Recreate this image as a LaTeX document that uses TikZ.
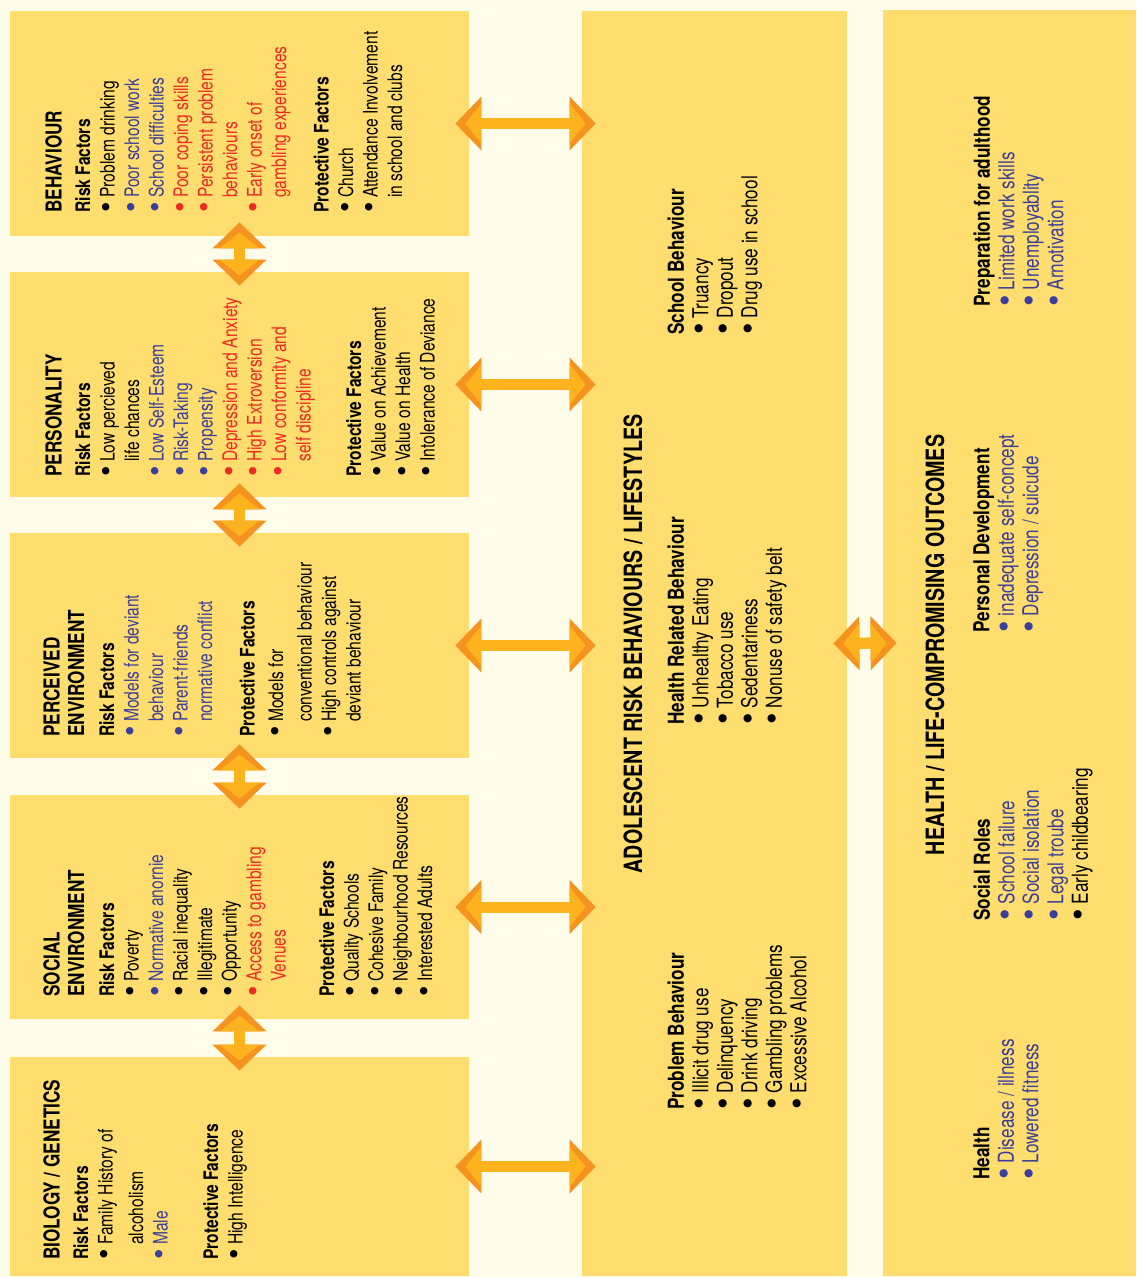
\documentclass[tikz,border=0pt]{standalone}
\usepackage{fontspec}
\setmainfont{TeX Gyre Heros}[FakeStretch=0.78]
\newfontfamily\dotfont{TeX Gyre Heros}
\usetikzlibrary{arrows.meta,fit,calc}

\definecolor{bgcream}{HTML}{FFFCEA}
\definecolor{boxyellow}{HTML}{FFDD6E}
\definecolor{itemblue}{HTML}{3B3E9B}
\definecolor{itemred}{HTML}{EE2A24}
\definecolor{arrowgold}{HTML}{FDB31E}
\definecolor{arroworange}{HTML}{F6921E}

% bullet item, and its continuation line
\newcommand{\bigdot}{\raisebox{-0.09em}{\scalebox{1.5}{\dotfont\textbullet}}}
\newcommand{\itm}[2]{\textcolor{#1}{\bigdot\ #2}}
\newcommand{\itmc}[2]{\phantom{\bigdot\ }\textcolor{#1}{#2}}
\newcommand{\ttl}[1]{{\fontsize{11}{12.25}\selectfont\bfseries #1}}
\newcommand{\bigttl}[1]{{\fontsize{12.6}{14}\selectfont\bfseries #1}}

\begin{document}
\begin{tikzpicture}[
                x=0.5pt,y=-0.5pt,
                panel/.style={fill=boxyellow,inner sep=0pt},
                txt/.style={rotate=90,anchor=north west,align=left,inner sep=0pt,font=\fontsize{10}{12.25}\selectfont},
                grp/.style={rotate=90,anchor=north west,align=left,inner sep=0pt,font=\fontsize{11}{12.25}\selectfont},
                bigarrow/.style={line width=5.5pt,draw=arrowgold,
                  {Triangle[length=13pt 0 0,width=27pt 0 0,line width=0pt 0,color=arroworange]}-{Triangle[length=13pt 0 0,width=27pt 0 0,line width=0pt 0,color=arroworange]}},
                bigarrowin/.style={line width=5.5pt,draw=arrowgold,shorten <=5pt,shorten >=5pt,
                  {Triangle[length=8pt 0 0,width=20pt 0 0,line width=0pt 0]}-{Triangle[length=8pt 0 0,width=20pt 0 0,line width=0pt 0]}}]

\useasboundingbox (0,0) rectangle (1136,1277);
\fill[bgcream] (0,0) rectangle (1136,1277);

                    % boxes
                    \node[panel,fit={(10,11) (469,236)}] (BEH) {};
                    \node[panel,fit={(10,272) (469,497)}] (PER) {};
                    \node[panel,fit={(10,533) (469,758)}] (PENV) {};
                    \node[panel,fit={(10,795) (469,1019)}] (SENV) {};
                    \node[panel,fit={(10,1057) (469,1276)}] (BIO) {};
                    \node[panel,fit={(582,11) (847,1276)}] (ARB) {};
                    \node[panel,fit={(883,10) (1136,1276)}] (HLO) {};

                    % arrows
                    \foreach \b in {BEH,PER,PENV,SENV,BIO}{
                      \draw[bigarrow] ([xshift=-7pt]\b.east) -- ($(ARB.west |- \b.east)+(7pt,0pt)$);
                      \draw[bigarrowin] ([xshift=-7pt]\b.east) -- ($(ARB.west |- \b.east)+(7pt,0pt)$);
                    }
                    \foreach \a/\b in {BEH/PER,PER/PENV,PENV/SENV,SENV/BIO}{
                      \draw[bigarrow] ([yshift=7pt]\a.south) -- ([yshift=-7pt]\b.north);
                      \draw[bigarrowin] ([yshift=7pt]\a.south) -- ([yshift=-7pt]\b.north);
                    }
                    \draw[bigarrow] ([xshift=-7pt]ARB.east) -- ([xshift=7pt]HLO.west);
                    \draw[bigarrowin] ([xshift=-7pt]ARB.east) -- ([xshift=7pt]HLO.west);

                    % 1
                    \node[txt] (BEHT) at (45,213) {\ttl{BEHAVIOUR}\\[2pt]
                      \textbf{Risk Factors}\\
                      \itm{black}{Problem drinking}\\
                      \itm{itemblue}{Poor school work}\\
                      \itm{itemblue}{School difficulties}\\
                      \itm{itemred}{Poor coping skills}\\
                      \itm{itemred}{Persistent problem}\\
                      \itmc{itemred}{behaviours}\\
                      \itm{itemred}{Early onset of}\\
                      \itmc{itemred}{gambling experiences}\\[9pt]
                      \textbf{Protective Factors}\\
                      \itm{black}{Church}\\
                      \itm{black}{Attendance Involvement}\\
                      \itmc{black}{in school and clubs}};

                    % 2
                    \node[txt] (PERT) at (45,477) {\ttl{PERSONALITY}\\[2pt]
                      \textbf{Risk Factors}\\
                      \itm{black}{Low percieved}\\
                      \itmc{black}{life chances}\\
                      \itm{itemblue}{Low Self-Esteem}\\
                      \itm{itemblue}{Risk-Taking}\\
                      \itm{itemblue}{Propensity}\\
                      \itm{itemred}{Depression and Anxiety}\\
                      \itm{itemred}{High Extroversion}\\
                      \itm{itemred}{Low conformity and}\\
                      \itmc{itemred}{self discipline}\\[13pt]
                      \textbf{Protective Factors}\\
                      \itm{black}{Value on Achievement}\\
                      \itm{black}{Value on Health}\\
                      \itm{black}{Intolerance of Deviance}};

                    % 3
                    \node[txt] (PENVT) at (43,737) {\ttl{PERCEIVED}\\
                      \ttl{ENVIRONMENT}\\[2.75pt]
                      \textbf{Risk Factors}\\
                      \itm{itemblue}{Models for deviant}\\
                      \itmc{itemblue}{behaviour}\\
                      \itm{itemblue}{Parent-friends}\\
                      \itmc{itemblue}{normative conflict}\\[9pt]
                      \textbf{Protective Factors}\\[2pt]
                      \itm{black}{Models for}\\[2pt]
                      \itmc{black}{conventional behaviour}\\
                      \itm{black}{High controls against}\\
                      \itmc{black}{deviant behaviour}};

                    % 4
                    \node[txt] (SENVT) at (43,997) {\ttl{SOCIAL}\\
                      \ttl{ENVIRONMENT}\\[2.75pt]
                      \textbf{Risk Factors}\\
                      \itm{black}{Poverty}\\
                      \itm{itemblue}{Normative anornie}\\
                      \itm{black}{Racial inequality}\\
                      \itm{black}{Illegitimate}\\
                      \itm{black}{Opportunity}\\
                      \itm{itemred}{Access to gambling}\\
                      \itmc{itemred}{Venues}\\[12pt]
                      \textbf{Protective Factors}\\
                      \itm{black}{Quality Schools}\\
                      \itm{black}{Cohesive Family}\\
                      \itm{black}{Neighbourhood Resources}\\
                      \itm{black}{Interested Adults}};

                    % 5
                    \node[txt] (BIOT) at (43,1260) {\ttl{BIOLOGY / GENETICS}\\[2pt]
                      \textbf{Risk Factors}\\
                      \itm{black}{Family History of}\\[3pt]
                      \itmc{black}{alcoholism}\\
                      \itm{itemblue}{Male}\\[13pt]
                      \textbf{Protective Factors}\\
                      \itm{black}{High Intelligence}};

                    % middle
                    \node[rotate=90,anchor=north,inner sep=0pt] (ARBT) at (623,644) {\bigttl{ADOLESCENT RISK BEHAVIOURS / LIFESTYLES}};
                    \node[grp] (SCHB) at (667,335) {\ttl{School Behaviour}\\
                      \itm{black}{Truancy}\\
                      \itm{black}{Dropout}\\
                      \itm{black}{Drug use in school}};
                    \node[grp] (HRB) at (667,725) {\ttl{Health Related Behaviour}\\
                      \itm{black}{Unhealthy Eating}\\
                      \itm{black}{Tobacco use}\\
                      \itm{black}{Sedentariness}\\
                      \itm{black}{Nonuse of safety belt}};
                    \node[grp] (PRB) at (667,1110) {\ttl{Problem Behaviour}\\
                      \itm{black}{Illicit drug use}\\
                      \itm{black}{Delinquency}\\
                      \itm{black}{Drink driving}\\
                      \itm{black}{Gambling problems}\\
                      \itm{black}{Excessive Alcohol}};

                    % right
                    \node[rotate=90,anchor=north,inner sep=0pt] (HLOT) at (925,645) {\bigttl{HEALTH / LIFE-COMPROMISING OUTCOMES}};
                    \node[grp] (PREP) at (973,307) {\ttl{Preparation for adulthood}\\
                      \itm{itemblue}{Limited work skills}\\
                      \itm{itemblue}{Unemployablity}\\
                      \itm{itemblue}{Arnotivation}};
                    \node[grp] (PDEV) at (973,633) {\ttl{Personal Development}\\
                      \itm{itemblue}{inadequate self-concept}\\
                      \itm{itemblue}{Depression / suicude}};
                    \node[grp] (SROL) at (973,921) {\ttl{Social Roles}\\
                      \itm{itemblue}{School failure}\\
                      \itm{itemblue}{Social isolation}\\
                      \itm{itemblue}{Legal troube}\\
                      \itm{black}{Early childbearing}};
                    \node[grp] (HLTH) at (973,1180) {\ttl{Health}\\
                      \itm{itemblue}{Disease / illness}\\
                      \itm{itemblue}{Lowered fitness}};

\end{tikzpicture}
\end{document}
